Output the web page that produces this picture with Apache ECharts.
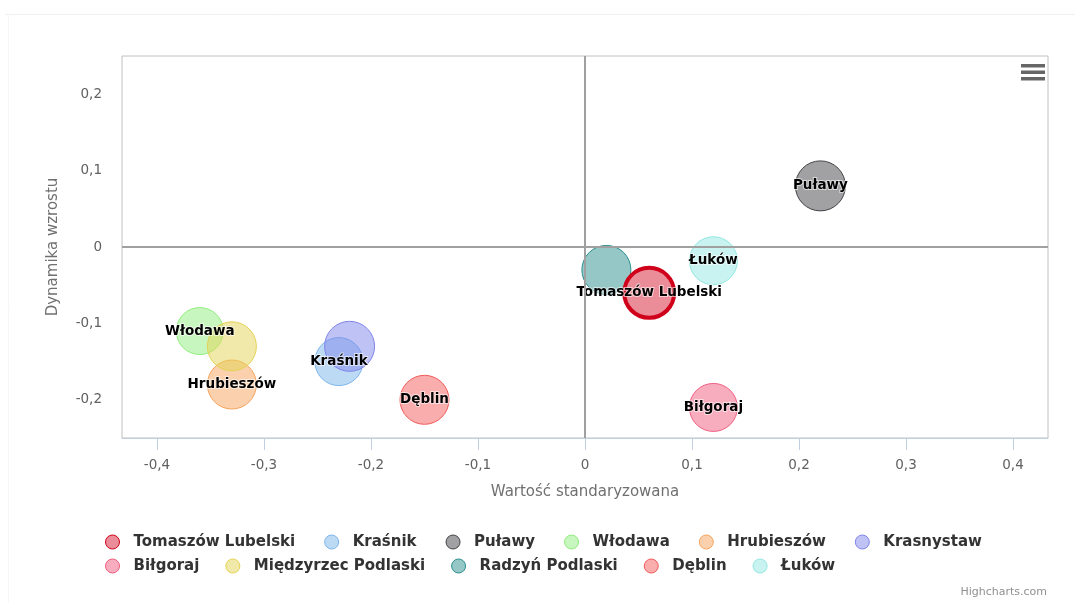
<!DOCTYPE html>
<html><head><meta charset="utf-8">
<script src="https://cdn.jsdelivr.net/npm/echarts@6/dist/echarts.min.js"></script>
<style>html,body{margin:0;padding:0;background:#fff;}#c{width:1075px;height:603px;}</style>
</head><body><div id="c"></div>
<script>
// ---- data ----
const names = ['Tomaszów Lubelski','Kraśnik','Puławy','Włodawa','Hrubieszów','Krasnystaw','Biłgoraj','Międzyrzec Podlaski','Radzyń Podlaski','Dęblin','Łuków'];
const xValues = [0.06,-0.23,0.22,-0.36,-0.33,-0.22,0.12,-0.33,0.02,-0.15,0.12];
const yValues = [-0.06,-0.15,0.08,-0.11,-0.18,-0.13,-0.21,-0.13,-0.03,-0.2,-0.018];
const bubbleValues = [50,48,50,47,49,50,48,49,49,49,48];
const hiddenLabels = ['Krasnystaw','Międzyrzec Podlaski','Radzyń Podlaski'];
const xTicks = [-0.4,-0.3,-0.2,-0.1,0,0.1,0.2,0.3,0.4];
const yTicks = [-0.2,-0.1,0,0.1,0.2];
const legendRow1 = names.slice(0,6);
const legendRow2 = names.slice(6);
const xTitle = 'Wartość standaryzowana';
const yTitle = 'Dynamika wzrostu';
// ---- styles ----
const colors = ['#d0021b','#7cb5ec','#434348','#90ed7d','#f7a35c','#8085e9','#f15c80','#e4d354','#2b908f','#f45b5b','#91e8e1'];
const FONT = '"DejaVu Sans", sans-serif';
function rgba(hex,a){const n=parseInt(hex.slice(1),16);return `rgba(${n>>16},${(n>>8)&255},${n&255},${a})`;}
function fmt(v){return v===0?'0':v.toFixed(1).replace('.',',');}

const chart = echarts.init(document.getElementById('c'), null, {renderer:'canvas'});
const series = names.map((n,i)=>({
  type:'scatter', name:n, z: i===0?4:2,
  data:[[xValues[i], yValues[i], bubbleValues[i]]],
  symbol:'circle',
  symbolSize: d=>d[2],
  itemStyle:{color: rgba(colors[i], i===0?0.45:0.5), borderColor: colors[i], borderWidth: i===0?4:1, opacity:1},
  label:{show: hiddenLabels.indexOf(n)<0, position:'inside', formatter:'{a}', fontFamily:FONT, fontWeight:'bold', fontSize:13.5, color:'#000', textBorderColor:'rgba(255,255,255,0.6)', textBorderWidth:2},
  emphasis:{disabled:true},
  animation:false
}));
series.unshift({
  type:'scatter', data:[], z:1, silent:true, animation:false,
  markLine:{silent:true, symbol:'none', animation:false, label:{show:false},
    lineStyle:{color:'#a0a0a0', width:2, type:'solid'},
    data:[{xAxis:0},{yAxis:0}]}
});
const legendCommon = {
  orient:'horizontal', itemWidth:32, itemHeight:14, icon:'circle',
  textStyle:{fontFamily:FONT, fontWeight:'bold', fontSize:15, color:'#333', lineHeight:16},
  itemStyle:{borderWidth:1}, selectedMode:false, padding:0
};
chart.setOption({
  backgroundColor:'#fff',
  animation:false,
  color: colors,
  grid:{left:122, right:27, top:56, bottom:165, show:true, borderColor:'#c0c0c0', borderWidth:1, backgroundColor:'transparent', outerBoundsMode:'none'},
  xAxis:{type:'value', min:-0.4327, max:0.4327,
    splitLine:{show:false},
    axisLine:{show:true, onZero:false, lineStyle:{color:'#C0D0E0', width:1}},
    axisTick:{show:true, customValues:xTicks, length:12, lineStyle:{color:'#C0D0E0'}},
    axisLabel:{customValues:xTicks, formatter:fmt, color:'#606060', fontSize:13.5, fontFamily:FONT, margin:20},
    name:xTitle, nameLocation:'middle', nameGap:47,
    nameTextStyle:{color:'#707070', fontSize:15, fontFamily:FONT}
  },
  yAxis:{type:'value', min:-0.25, max:0.25,
    splitLine:{show:false},
    axisLine:{show:false}, axisTick:{show:false},
    axisLabel:{customValues:yTicks, formatter:fmt, color:'#606060', fontSize:13.5, fontFamily:FONT, margin:20},
    name:yTitle, nameLocation:'middle', nameGap:61, nameRotate:90,
    nameTextStyle:{color:'#707070', fontSize:15, fontFamily:FONT}
  },
  legend:[
    Object.assign({data:legendRow1, left:105, top:534, itemGap:29}, legendCommon),
    Object.assign({data:legendRow2, left:105, top:558, itemGap:26}, legendCommon)
  ],
  graphic:[
    {type:'line', shape:{x1:5,y1:14.5,x2:1075,y2:14.5}, style:{stroke:'#f0f0f0', lineWidth:1}, silent:true},
    {type:'line', shape:{x1:8.5,y1:14,x2:8.5,y2:603}, style:{stroke:'#f6f6f6', lineWidth:1}, silent:true},
    {type:'rect', shape:{x:1021,y:64,width:24,height:3.5}, style:{fill:'#666'}, silent:true},
    {type:'rect', shape:{x:1021,y:70.5,width:24,height:3.5}, style:{fill:'#666'}, silent:true},
    {type:'rect', shape:{x:1021,y:77,width:24,height:3.5}, style:{fill:'#666'}, silent:true},
    {type:'text', right:28, top:587, style:{text:'Highcharts.com', fill:'#909090', font:'11px '+FONT}, silent:true}
  ],
  series: series
});
</script></body></html>
